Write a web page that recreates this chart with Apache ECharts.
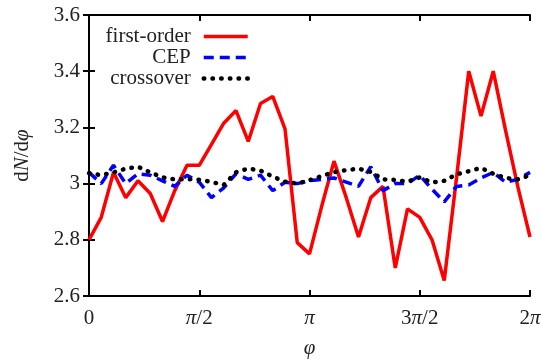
<!DOCTYPE html>
<html>
<head>
<meta charset="utf-8">
<script src="https://cdn.jsdelivr.net/npm/echarts@6/dist/echarts.min.js"></script>
<style>
html,body{margin:0;padding:0;background:#fff;}
#chart{width:541px;height:361px;}
</style>
</head>
<body>
<div id="chart"></div>
<script>
// 37 bins: phi = i * 2π/36
var seriesNames = ['first-order', 'CEP', 'crossover'];
var firstOrder = [2.80, 2.88, 3.04, 2.95, 3.01, 2.965, 2.865, 2.975, 3.065, 3.065, 3.14, 3.215, 3.26, 3.15, 3.285, 3.31, 3.195, 2.79, 2.75, 2.92, 3.08, 2.95, 2.81, 2.95, 2.99, 2.70, 2.91, 2.88, 2.80, 2.655, 3.02, 3.40, 3.24, 3.40, 3.19, 2.99, 2.81];
var cep = [3.04, 3.00, 3.065, 3.00, 3.035, 3.03, 3.01, 2.99, 3.03, 3.005, 2.95, 2.985, 3.035, 3.015, 3.03, 2.975, 3.005, 3.00, 3.01, 3.015, 3.02, 3.005, 2.99, 3.06, 2.975, 3.00, 3.00, 3.03, 2.98, 2.935, 2.99, 2.995, 3.02, 3.04, 3.005, 3.015, 3.04];
var crossover = [3.037, 3.03, 3.04, 3.053, 3.06, 3.04, 3.022, 3.015, 3.016, 3.014, 3.006, 2.995, 3.04, 3.054, 3.046, 3.025, 3.007, 3.00, 3.012, 3.027, 3.041, 3.048, 3.053, 3.042, 3.015, 3.013, 3.007, 3.022, 3.004, 3.01, 3.033, 3.044, 3.056, 3.035, 3.02, 3.015, 3.03];
var xTickLabels = ['0', '{i|π}/2', '{i|π}', '3{i|π}/2', '2{i|π}'];
var yTicks = [2.6, 2.8, 3.0, 3.2, 3.4, 3.6];

var PI = Math.PI;
function pts(arr) {
  return arr.map(function (v, i) { return [i * 2 * PI / (arr.length - 1), v]; });
}
var FONT = 'Liberation Serif';
var TXT = '#222';
var richItalic = { i: { fontStyle: 'italic', fontFamily: FONT, fontSize: 21, color: TXT } };

var styles = [
  { color: '#ff0000', width: 3.5, type: 'solid' },
  { color: '#0000ff', width: 3.5, type: [10, 6] },
  { color: '#000000', width: 4.5, type: [0.5, 8.2], cap: 'round' }
];

var chart = echarts.init(document.getElementById('chart'), null, { renderer: 'canvas' });
var axisLine = { show: true, lineStyle: { color: '#000', width: 2 } };
var tick = { show: true, inside: true, length: 6, lineStyle: { color: '#000', width: 2 } };

chart.setOption({
  animation: false,
  backgroundColor: '#fff',
  grid: { left: 89, right: 11, top: 15, bottom: 65, containLabel: false, outerBoundsMode: 'none' },
  legend: {
    orient: 'vertical',
    align: 'right',
    right: 286,
    top: 21,
    itemWidth: 44,
    itemHeight: 14,
    itemGap: 0,
    data: seriesNames.map(function (n, k) {
      return { name: n, lineStyle: styles[k], itemStyle: { opacity: 0 } };
    }),
    itemStyle: { opacity: 0 },
    textStyle: { fontFamily: FONT, fontSize: 21, color: TXT, padding: [0, 8, 0, 0] }
  },
  xAxis: [{
    type: 'value', min: 0, max: 2 * PI, interval: PI / 2,
    position: 'bottom',
    name: '{i|φ}', nameLocation: 'middle', nameGap: 42,
    nameTextStyle: { fontFamily: FONT, fontSize: 21, color: TXT, rich: richItalic },
    axisLine: axisLine, axisTick: tick, splitLine: { show: false },
    axisLabel: {
      margin: 12, fontFamily: FONT, fontSize: 21, color: TXT, rich: richItalic,
      formatter: function (v) { return xTickLabels[Math.round(v / (PI / 2))]; }
    }
  }, {
    type: 'value', min: 0, max: 2 * PI, interval: PI / 2,
    position: 'top',
    axisLine: axisLine, axisTick: tick, splitLine: { show: false }, axisLabel: { show: false }
  }],
  yAxis: [{
    type: 'value', min: yTicks[0], max: yTicks[yTicks.length - 1], interval: 0.2,
    position: 'left',
    name: 'd{i|N}/d{i|φ}', nameLocation: 'middle', nameGap: 56, nameRotate: 90,
    nameTextStyle: { fontFamily: FONT, fontSize: 21, color: TXT, rich: richItalic },
    axisLine: axisLine, axisTick: tick, splitLine: { show: false },
    axisLabel: {
      margin: 9, fontFamily: FONT, fontSize: 21, color: TXT,
      formatter: function (v) { return String(Math.round(v * 10) / 10); }
    }
  }, {
    type: 'value', min: yTicks[0], max: yTicks[yTicks.length - 1], interval: 0.2,
    position: 'right',
    axisLine: axisLine, axisTick: tick, splitLine: { show: false }, axisLabel: { show: false }
  }],
  series: [{
    name: seriesNames[0], type: 'line', data: pts(firstOrder),
    symbol: 'none', showSymbol: false,
    lineStyle: styles[0], itemStyle: { color: styles[0].color }
  }, {
    name: seriesNames[1], type: 'line', data: pts(cep),
    symbol: 'none', showSymbol: false,
    lineStyle: styles[1], itemStyle: { color: styles[1].color }
  }, {
    name: seriesNames[2], type: 'line', data: pts(crossover),
    symbol: 'none', showSymbol: false,
    lineStyle: styles[2], itemStyle: { color: styles[2].color }
  }]
});
</script>
</body>
</html>
